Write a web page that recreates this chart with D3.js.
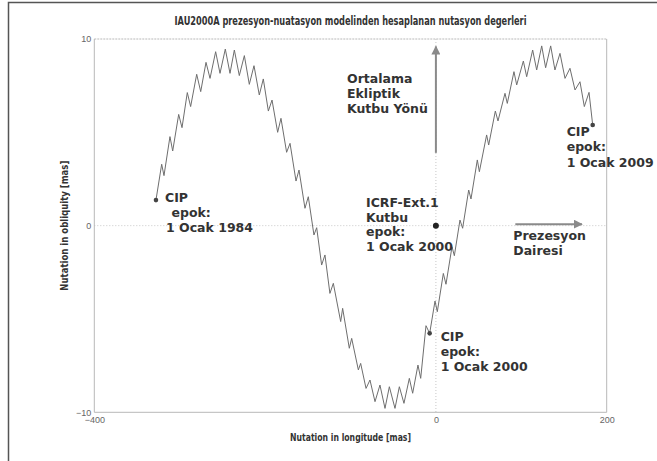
<!DOCTYPE html>
<html>
<head>
<meta charset="utf-8">
<script src="https://cdn.jsdelivr.net/npm/d3@7"></script>
<style>
  body { margin: 0; background: #fff; }
  svg { display: block; }
</style>
</head>
<body>
<svg id="chart" width="657" height="461"></svg>
<script>
// Axis ticks
const xTicks = [-400, 0, 200];
const yTicks = [-10, 0, 10];

// CIP path 1984-2009: nutation in longitude [mas]
const nutLon = [
  -327.8, -321.1, -318.4, -311.4, -308.2, -301.2, -297.3, -291.1, -287.2, -280.1,
  -275.4, -269.2, -264.5, -257.9, -252.8, -246.6, -241.1, -236.0, -230.2, -224.3,
  -218.5, -213.0, -206.8, -202.1, -196.2, -191.9, -185.3, -181.4, -174.8, -170.8,
  -163.8, -160.3, -153.3, -149.4, -142.8, -139.6, -133.8, -129.9, -124.1, -120.1,
  -111.5, -109.2, -101.4, -98.6, -90.8, -88.1, -81.8, -77.2, -71.3, -65.5,
  -59.6, -54.5, -47.9, -42.8, -37.4, -31.1, -27.2, -21.0, -17.8, -11.6,
  -7.3, -1.05, 1.67, 8.7, 11.8, 18.85, 21.6, 28.2, 31.3, 38.4,
  41.1, 48.5, 50.9, 59.4, 61.8, 69.6, 72.7, 80.9, 83.6, 91.4,
  94.6, 102.4, 106.3, 113.3, 118.0, 123.9, 128.5, 134.4, 139.4, 145.3,
  151.2, 157.0, 162.9, 168.7, 173.8, 179.3, 183.6
];
// CIP path 1984-2009: nutation in obliquity [mas]
const nutObl = [
  1.37, 3.29, 2.68, 4.77, 4.00, 5.96, 5.25, 7.13, 6.38, 8.11,
  7.18, 8.75, 7.89, 9.32, 8.16, 9.46, 8.16, 9.41, 8.04, 9.11,
  7.57, 8.57, 7.00, 7.86, 6.14, 6.73, 5.00, 5.75, 3.93, 4.41,
  2.39, 2.98, 0.93, 1.55, -0.50, -0.11, -2.11, -1.57, -3.63, -3.09,
  -5.14, -4.43, -6.57, -6.04, -7.73, -7.38, -8.72, -8.27, -9.43, -8.54,
  -9.79, -8.63, -9.79, -8.63, -9.52, -8.18, -8.98, -7.47, -8.18, -5.36,
  -5.77, -4.04, -4.61, -2.56, -3.14, -1.13, -1.61, 0.30, -0.14, 1.91,
  1.43, 3.52, 2.89, 4.86, 4.32, 6.14, 5.61, 7.09, 6.55, 8.25,
  7.54, 8.82, 7.98, 9.41, 8.34, 9.63, 8.46, 9.63, 8.34, 9.23,
  7.89, 8.43, 7.27, 7.71, 6.38, 7.14, 5.39
];

// Marked epochs: [longitude, obliquity]
const markNames = ["CIP 1984", "ICRF-Ext.1", "CIP 2000", "CIP 2009"];
const markLon = [-327.8, 0, -7.3, 183.6];
const markObl = [1.37, 0, -5.77, 5.39];

// Annotation texts (one array of lines per block)
const noteCip1984 = ["CIP", "epok:", "1 Ocak 1984"];
const noteIcrf = ["ICRF-Ext.1", "Kutbu", "epok:", "1 Ocak 2000"];
const noteCip2000 = ["CIP", "epok:", "1 Ocak 2000"];
const noteCip2009 = ["CIP", "epok:", "1 Ocak 2009"];
const notePole = ["Ortalama", "Ekliptik", "Kutbu Yönü"];
const notePrec = ["Prezesyon", "Dairesi"];

const titleText = "IAU2000A prezesyon-nuatasyon modelinden hesaplanan nutasyon degerleri";
const xLabel = "Nutation in longitude [mas]";
const yLabel = "Nutation in obliquity [mas]";

const svg = d3.select("#chart");
const W = 657, H = 461;
const plot = { left: 94.3, right: 606.7, top: 39, bottom: 412.3 };

const x = d3.scaleLinear().domain([-400, 200]).range([plot.left, plot.right]);
const y = d3.scaleLinear().domain([-10, 10]).range([plot.bottom, plot.top]);

// Outer frame (left and top edges)
svg.append("path")
  .attr("d", `M8.5,${H} L8.5,2.5 L${W},2.5`)
  .attr("fill", "none")
  .attr("stroke", "#555")
  .attr("stroke-width", 1.5);

// Dotted zero grid lines
const grid = svg.append("g").attr("stroke", "#c8c8c8").attr("stroke-width", 1)
  .attr("stroke-dasharray", "1,2");
grid.append("line").attr("x1", x(0)).attr("x2", x(0)).attr("y1", y(10)).attr("y2", y(-10));
grid.append("line").attr("x1", x(-400)).attr("x2", x(200)).attr("y1", y(0)).attr("y2", y(0));

// Axes box
const box = svg.append("g").attr("fill", "none").attr("stroke", "#b8b8b8").attr("stroke-width", 1);
box.append("line").attr("x1", x(-400)).attr("x2", x(-400)).attr("y1", y(10)).attr("y2", y(-10));
box.append("line").attr("x1", x(-400)).attr("x2", x(200)).attr("y1", y(-10)).attr("y2", y(-10));
box.append("line").attr("x1", x(200)).attr("x2", x(200)).attr("y1", y(10)).attr("y2", y(-10));
box.append("line").attr("x1", x(-400)).attr("x2", x(200)).attr("y1", y(10)).attr("y2", y(10))
  .attr("stroke-dasharray", "2,1");

// Tick labels via d3 axes
const xAxis = d3.axisBottom(x).tickValues(xTicks).tickSize(0).tickPadding(3).tickFormat(d3.format("d"));
const yAxis = d3.axisLeft(y).tickValues(yTicks).tickSize(0).tickPadding(3).tickFormat(d3.format("d"));
const gx = svg.append("g").attr("transform", `translate(0,${plot.bottom})`).call(xAxis);
const gy = svg.append("g").attr("transform", `translate(${plot.left},0)`).call(yAxis);
[gx, gy].forEach(g => {
  g.select(".domain").remove();
  g.selectAll("text").attr("fill", "#666").style("font-family", "Liberation Sans, Arial, sans-serif")
    .style("font-size", "9px");
});
gx.selectAll("text").attr("dy", "0.9em");

// Title and axis labels (condensed face)
const condensed = "'DejaVu Sans Condensed', 'Liberation Sans Narrow', sans-serif";
svg.append("text").text(titleText)
  .attr("x", (plot.left + plot.right) / 2).attr("y", 25)
  .attr("text-anchor", "middle")
  .attr("textLength", 352).attr("lengthAdjust", "spacingAndGlyphs")
  .style("font-family", condensed).style("font-size", "12.5px").style("font-weight", "bold")
  .attr("fill", "#333");
svg.append("text").text(xLabel)
  .attr("x", (plot.left + plot.right) / 2).attr("y", 441)
  .attr("text-anchor", "middle")
  .attr("textLength", 121).attr("lengthAdjust", "spacingAndGlyphs")
  .style("font-family", condensed).style("font-size", "10px").style("font-weight", "bold")
  .attr("fill", "#333");
svg.append("text").text(yLabel)
  .attr("transform", `translate(68,${(plot.top + plot.bottom) / 2}) rotate(-90)`)
  .attr("text-anchor", "middle")
  .attr("textLength", 130).attr("lengthAdjust", "spacingAndGlyphs")
  .style("font-family", condensed).style("font-size", "10px").style("font-weight", "bold")
  .attr("fill", "#333");

// Direction arrows
const arrowColor = "#8a8a8a";
const defs = svg.append("defs");
defs.append("marker").attr("id", "head")
  .attr("viewBox", "0 0 10 10").attr("refX", 9).attr("refY", 5)
  .attr("markerWidth", 4.5).attr("markerHeight", 4.5).attr("orient", "auto")
  .attr("markerUnits", "strokeWidth")
  .append("path").attr("d", "M0,0 L10,5 L0,10 z").attr("fill", arrowColor);

svg.append("line")
  .attr("x1", x(0)).attr("y1", y(3.9)).attr("x2", x(0)).attr("y2", y(9.6))
  .attr("stroke", arrowColor).attr("stroke-width", 2).attr("marker-end", "url(#head)");
svg.append("line")
  .attr("x1", x(93)).attr("y1", y(0.08)).attr("x2", x(171)).attr("y2", y(0.08))
  .attr("stroke", arrowColor).attr("stroke-width", 2).attr("marker-end", "url(#head)");

// CIP path
const pts = nutLon.map((v, i) => [v, nutObl[i]]);
svg.append("path")
  .datum(pts)
  .attr("d", d3.line().x(d => x(d[0])).y(d => y(d[1])))
  .attr("fill", "none")
  .attr("stroke", "#6e6e6e")
  .attr("stroke-width", 1)
  .attr("stroke-linejoin", "round");

// Epoch dots
svg.append("g").selectAll("circle")
  .data(markLon.map((v, i) => ({ name: markNames[i], lon: v, obl: markObl[i] })))
  .join("circle")
  .attr("cx", d => x(d.lon)).attr("cy", d => y(d.obl))
  .attr("r", d => d.name === "ICRF-Ext.1" ? 3 : 2.3)
  .attr("fill", d => d.name === "ICRF-Ext.1" ? "#222" : "#444");

// Annotation blocks
function note(lines, px, py, step, indents) {
  const t = svg.append("text")
    .style("font-family", "'DejaVu Sans', Verdana, sans-serif")
    .style("font-weight", "bold").style("font-size", "12.5px")
    .attr("fill", "#333");
  lines.forEach((s, i) => {
    t.append("tspan").text(s)
      .attr("x", px + (indents ? indents[i] : 0))
      .attr("y", py + i * step);
  });
}
note(noteCip1984, 165, 202, 14.8, [0, 6.5, 1]);
note(noteIcrf, 366, 207.3, 14.5);
note(noteCip2000, 440.7, 340.7, 15);
note(noteCip2009, 566.7, 136, 15.3);
note(notePole, 347, 83.3, 14.7);
note(notePrec, 513.3, 240, 15);
</script>
</body>
</html>
